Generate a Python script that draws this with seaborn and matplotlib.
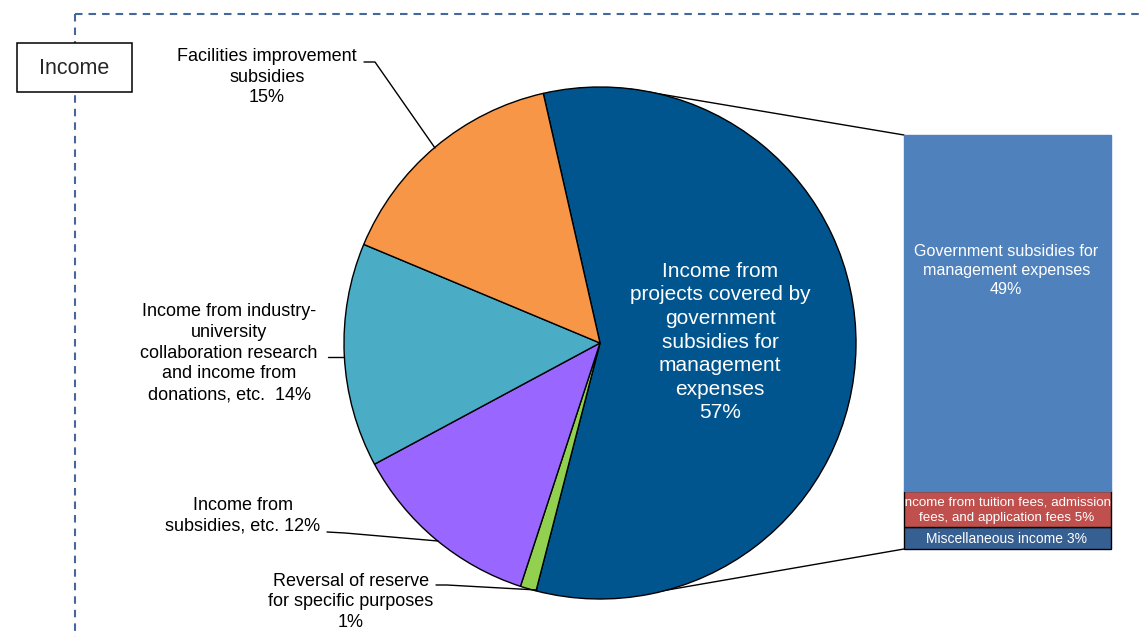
import matplotlib
matplotlib.use("Agg")
import matplotlib.pyplot as plt
from matplotlib.patches import Rectangle
import seaborn as sns

# ---- data -------------------------------------------------------------
pie_labels = [
    "Income from\nprojects covered by\ngovernment\nsubsidies for\nmanagement\nexpenses",
    "Reversal of reserve\nfor specific purposes",
    "Income from\nsubsidies, etc.",
    "Income from industry-\nuniversity\ncollaboration research\nand income from\ndonations, etc. ",
    "Facilities improvement\nsubsidies",
]
pie_values = [57, 1, 12, 14, 15]
pie_colors = ["#00558F", "#92D050", "#9966FF", "#4BACC6", "#F79646"]

bar_labels = [
    "Miscellaneous income",
    "Income from tuition fees, admission\nfees, and application fees",
    "Government subsidies for\nmanagement expenses",
]
bar_values = [3, 5, 49]
bar_colors = ["#376092", "#C0504D", "#4F81BD"]

title = "Income"

# ---- figure -----------------------------------------------------------
sns.set_theme(style="white")
plt.rcParams["font.family"] = ["Liberation Sans", "DejaVu Sans"]

W, H = 1144, 637
fig = plt.figure(figsize=(W / 100, H / 100), dpi=100)
ax = fig.add_axes([0, 0, 1, 1])


def P(x, y):
    """pixel position (origin top-left) -> axes data coords"""
    return x, H - y


cx, cy = P(600, 343)
R = 256
ax.pie(pie_values, colors=pie_colors, startangle=102.8, counterclock=False,
       center=(cx, cy), radius=R,
       wedgeprops=dict(edgecolor="black", linewidth=1.0, zorder=3))
ax.set_xlim(0, W)
ax.set_ylim(0, H)
ax.set_aspect("auto")
ax.axis("off")

# dashed frame
frame_kw = dict(color="#44679C", lw=1.5, ls=(0, (3.6, 2.9)), zorder=1)
ax.plot(*zip(P(75, 14), P(W, 14)), **frame_kw)
ax.plot(*zip(P(75, 14), P(75, H)), **frame_kw)

# title box
bx0, by0 = P(17, 92)
ax.add_patch(Rectangle((bx0, by0), 115, 49, facecolor="white",
                       edgecolor="black", lw=1.1, zorder=2))
ax.text(*P(74.5, 69), title, ha="center", va="center", fontsize=15.5, zorder=3)

# inner label of the large slice
ax.text(*P(720, 342), f"{pie_labels[0]}\n{pie_values[0]}%", ha="center",
        va="center", color="white", fontsize=15, linespacing=1.31, zorder=5)

txt_kw = dict(ha="center", va="center", fontsize=13, linespacing=1.29,
              color="black", zorder=5)
ax.text(*P(267, 77), f"{pie_labels[4]}\n{pie_values[4]}%", **txt_kw)
ax.text(*P(229, 353), f"{pie_labels[3]} {pie_values[3]}%", **txt_kw)
ax.text(*P(243, 516), f"{pie_labels[2]} {pie_values[2]}%", **txt_kw)
ax.text(*P(351, 602), f"{pie_labels[1]}\n{pie_values[1]}%", **txt_kw)

# leader lines
lead_kw = dict(color="black", lw=1.0, zorder=4)
for pts in ([(364, 62), (375, 62), (435, 148)],
            [(328, 357), (344, 357)],
            [(327, 532), (345, 533), (438, 541)],
            [(436, 585), (447, 585), (537, 590)]):
    xs, ys = zip(*[P(*p) for p in pts])
    ax.plot(xs, ys, **lead_kw)

# connectors from pie to stacked bar
for pts in ([(630, 89), (904, 135)], [(650, 593), (904, 549)]):
    xs, ys = zip(*[P(*p) for p in pts])
    ax.plot(xs, ys, color="black", lw=1.0, zorder=2)

# ---- stacked bar ------------------------------------------------------
axb = fig.add_axes([904 / W, (H - 549) / H, 207 / W, 414 / H])
bottom = 0
for lab, val, col in zip(bar_labels, bar_values, bar_colors):
    edge = "black" if val < 10 else col
    sns.barplot(x=[0], y=[val], bottom=bottom, color=col, ax=axb,
                width=0.8, edgecolor=edge, linewidth=1.0, saturation=1)
    bottom += val
for p in axb.patches:
    p.set_clip_on(False)
axb.set_xlim(-0.4, 0.4)
axb.set_ylim(0, sum(bar_values))
axb.axis("off")

bar_text_pos = [1.4, 5.3, 38.3]
bar_font = [10, 9.6, 11.6]
bar_spacing = [1.2, 1.4, 1.32]
for lab, val, yy, fs, ls in zip(bar_labels, bar_values, bar_text_pos,
                                bar_font, bar_spacing):
    sep = "\n" if val > 10 else " "
    axb.text(-0.005, yy, f"{lab}{sep}{val}%", ha="center", va="center",
             color="white", fontsize=fs, linespacing=ls, clip_on=True)

fig.savefig("out.png", dpi=100)
